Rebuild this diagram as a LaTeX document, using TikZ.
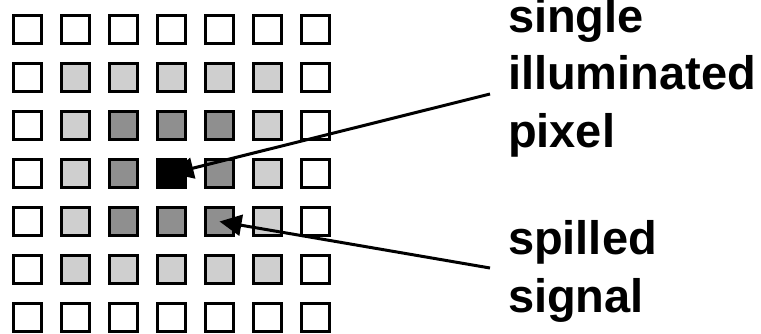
\documentclass[tikz,border=0pt]{standalone}
\usepackage{fontspec}
\setmainfont{Liberation Sans}
\usetikzlibrary{arrows.meta}
\definecolor{lightpix}{HTML}{CFCFCF}
\definecolor{darkpix}{HTML}{8F8F8F}
\begin{document}
\begin{tikzpicture}[x=1bp,y=-1bp,
  pix/.style={draw=black,line width=3bp,minimum size=28bp,inner sep=0pt,outer sep=0pt},
  arr/.style={line width=3bp,-{Triangle[length=22bp,width=21bp]}},
  lbl/.style={anchor=base west,inner sep=0pt,outer sep=0pt,align=left,
    font=\fontsize{47bp}{57.5bp}\selectfont\bfseries}]
\useasboundingbox (0,0) rectangle (761,333);
\foreach \i in {0,...,6}{
  \foreach \j in {0,...,6}{
    \pgfmathtruncatemacro\dd{max(abs(\i-3),abs(\j-3))}
    \ifcase\dd \def\fc{black}\or \def\fc{darkpix}\or \def\fc{lightpix}\else \def\fc{white}\fi
    \node[pix,fill=\fc] (p\i\j) at (27.5+48*\i, 29.5+48*\j) {};
  }
}
\coordinate (a1) at (490,94);
\coordinate (a2) at (490,268);
\draw[arr] (a1) -- (p33.center);
\draw[arr] (a2) -- (p44.center);
\node[lbl] (t1) at (508,147) {single\\illuminated\\pixel};
\node[lbl] (t2) at (508,312) {spilled\\signal};
\end{tikzpicture}
\end{document}
